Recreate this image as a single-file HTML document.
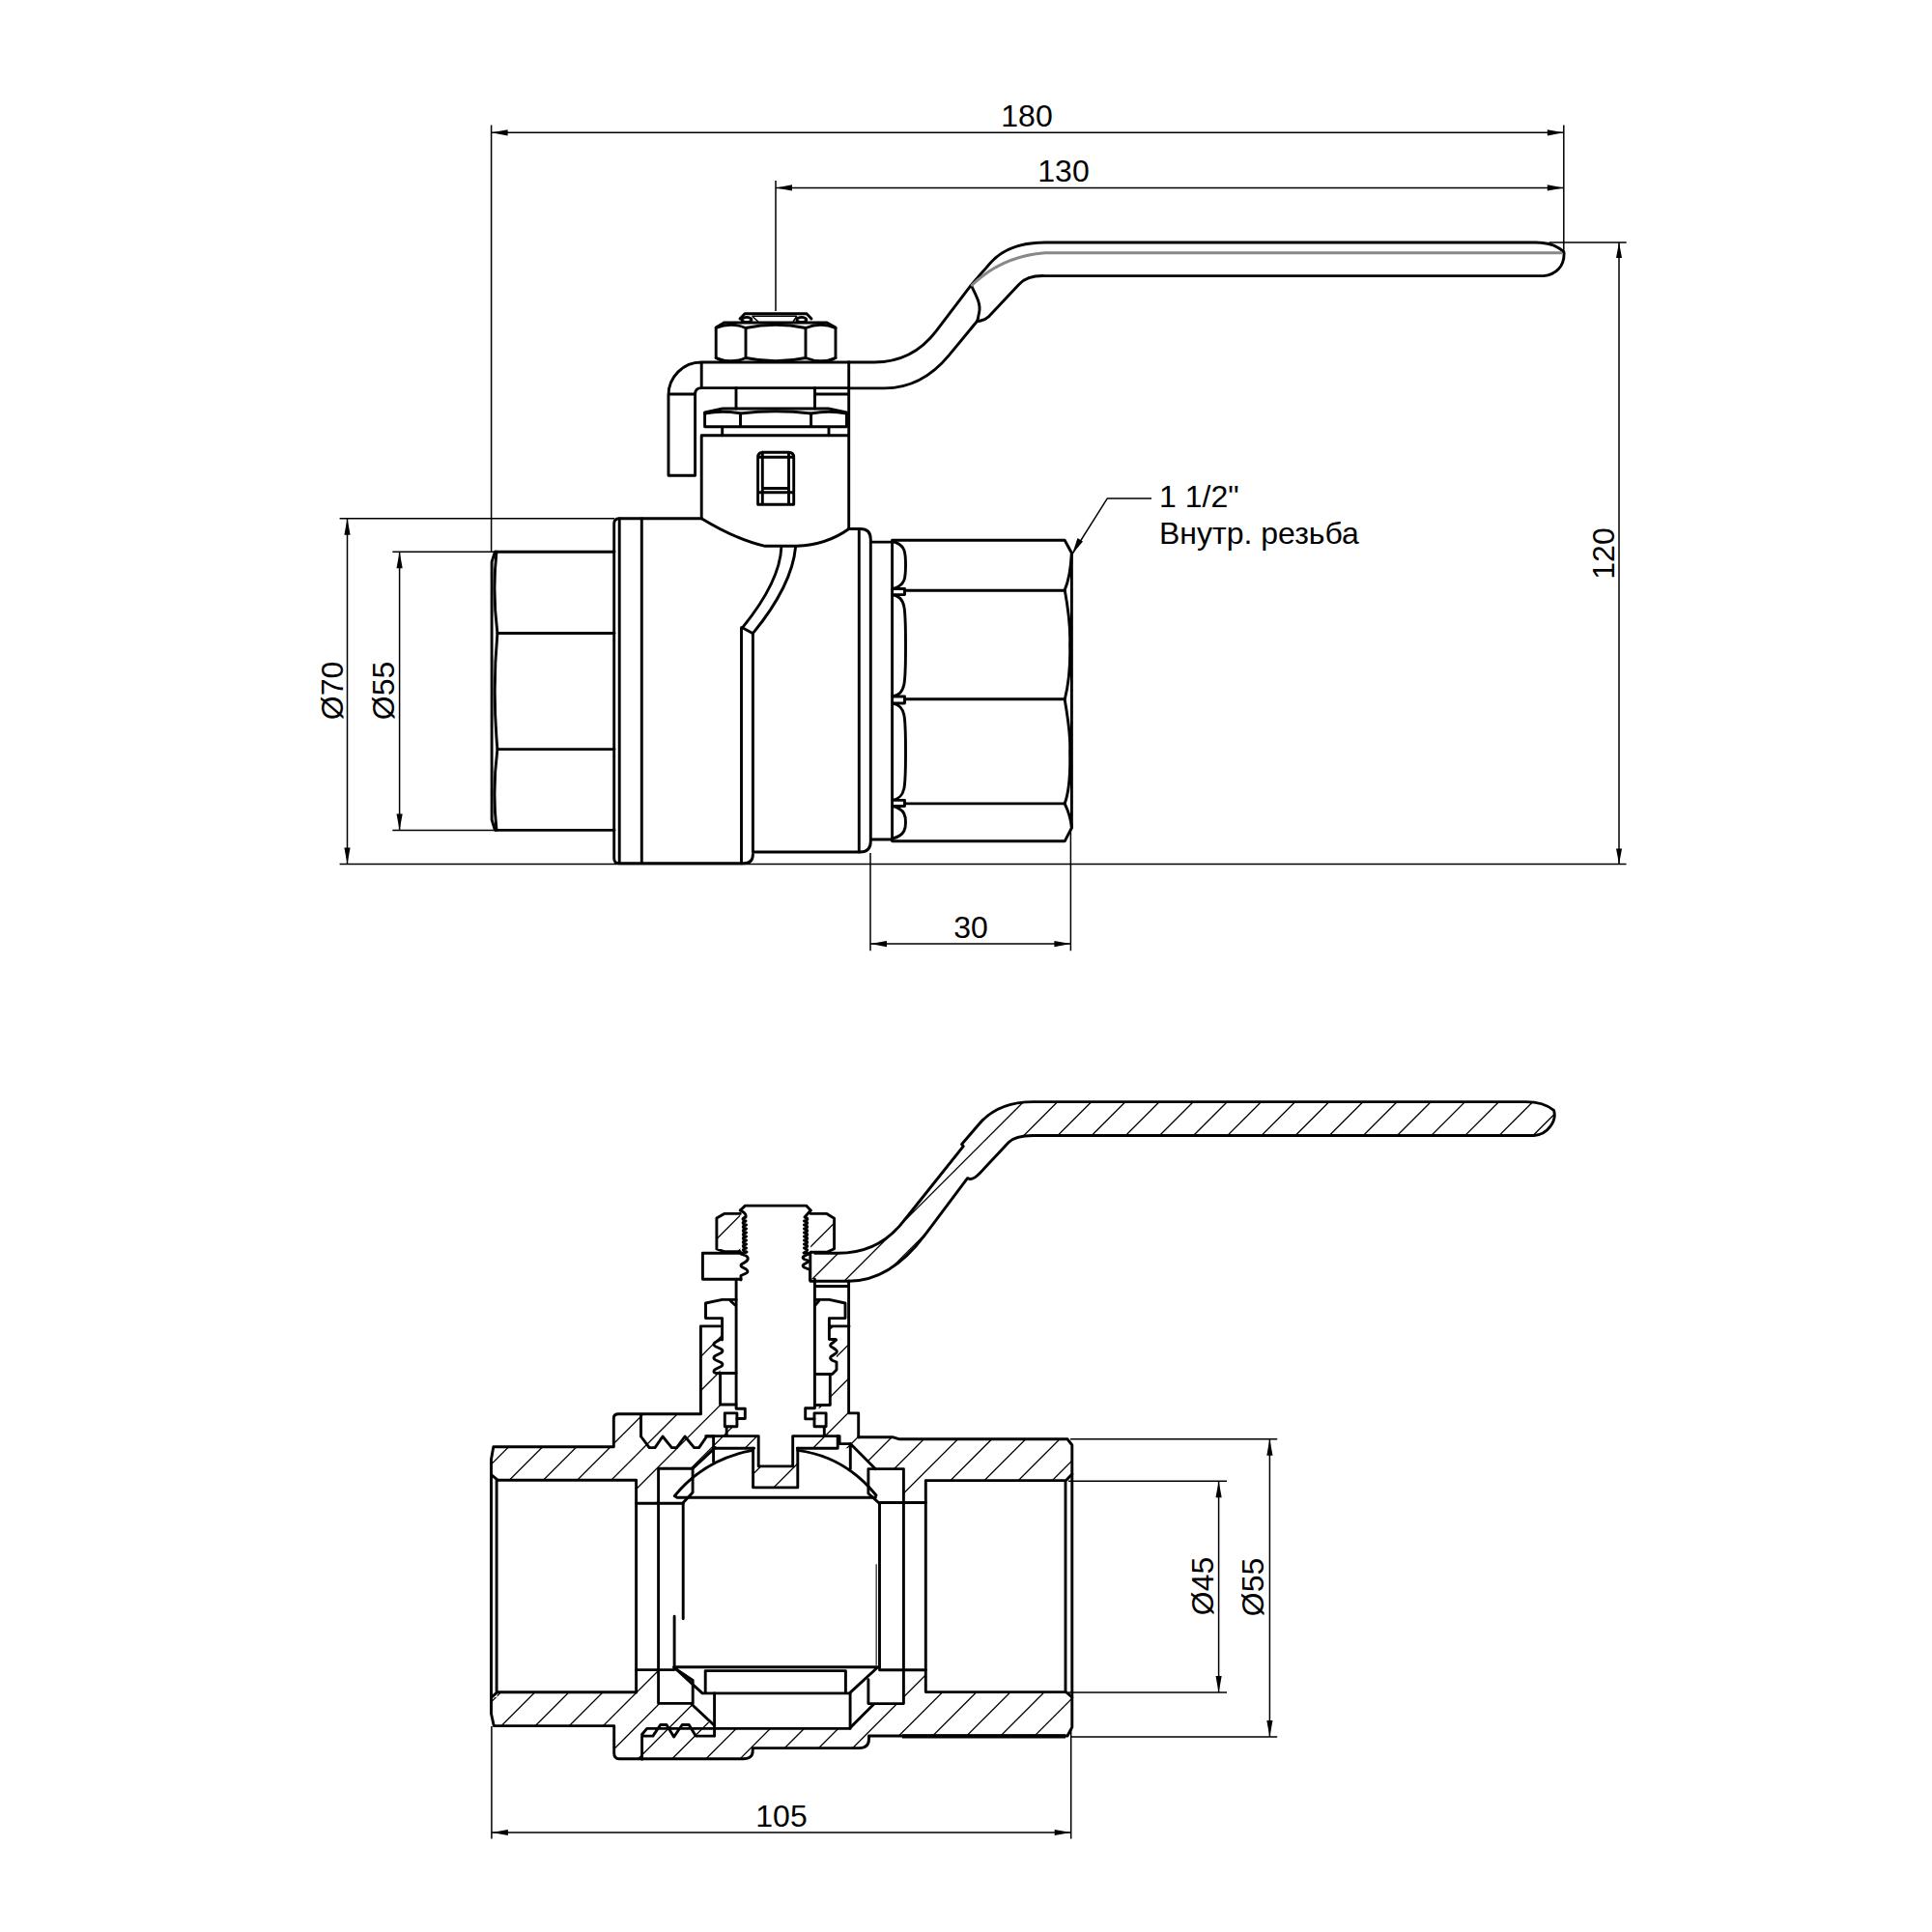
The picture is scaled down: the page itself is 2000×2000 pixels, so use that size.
<!DOCTYPE html>
<html><head><meta charset="utf-8">
<style>
html,body{margin:0;padding:0;background:#fff;}
svg{display:block;}
.o{fill:none;stroke:#000;stroke-width:2.9;stroke-linejoin:round;stroke-linecap:round;}
.d{fill:none;stroke:#000;stroke-width:1.5;}
.h{fill:none;stroke:#000;stroke-width:1.3;}
.a{fill:#000;stroke:none;}
text{font-family:"Liberation Sans",sans-serif;font-size:32px;fill:#000;}
</style></head><body>
<svg width="2000" height="2000" viewBox="0 0 2000 2000">
<rect width="2000" height="2000" fill="#fff"/>
<!-- ===== DIMENSIONS TOP ===== -->
<g id="dims">
<path class="d" d="M508.6 129.5V571 M1618.8 129.5V260 M508.6 137.3H1618.8 M803 187V322 M803 194.4H1618.8"/>
<polygon class="a" points="508.6,137.3 525.6,134.2 525.6,140.4"/>
<polygon class="a" points="1618.8,137.3 1601.8,134.2 1601.8,140.4"/>
<polygon class="a" points="803,194.4 820,191.3 820,197.5"/>
<polygon class="a" points="1618.8,194.4 1601.8,191.3 1601.8,197.5"/>
<text x="1063" y="131" text-anchor="middle">180</text>
<text x="1101" y="188" text-anchor="middle">130</text>
<path class="d" d="M1603.7 251H1683.7 M351.6 894.4H1683.5 M1676 251V894.4"/>
<polygon class="a" points="1676,251 1673,267 1679,267"/>
<polygon class="a" points="1676,894.4 1673,878.4 1679,878.4"/>
<text transform="translate(1670.7 573) rotate(-90)" text-anchor="middle">120</text>
<path class="d" d="M351.6 536.7H636 M359.5 536.7V894.4 M406.3 571.2H511 M406.3 859.4H511 M413.6 571.2V859.4"/>
<polygon class="a" points="359.5,536.7 356.4,553.7 362.6,553.7"/>
<polygon class="a" points="359.5,894.4 356.4,877.4 362.6,877.4"/>
<polygon class="a" points="413.6,571.2 410.5,588.2 416.7,588.2"/>
<polygon class="a" points="413.6,859.4 410.5,842.4 416.7,842.4"/>
<text transform="translate(354.6 715) rotate(-90)" text-anchor="middle">Ø70</text>
<text transform="translate(407.7 715) rotate(-90)" text-anchor="middle">Ø55</text>
<path class="d" d="M901 883V984.2 M1108.4 858V984.2 M901 977.1H1108.4"/>
<polygon class="a" points="901,977.1 918,974 918,980.2"/>
<polygon class="a" points="1108.4,977.1 1091.4,974 1091.4,980.2"/>
<text x="1005" y="971" text-anchor="middle">30</text>
<path class="d" d="M1110 573.5L1146.3 515.9H1192"/>
<polygon class="a" points="1110,573.5 1115.5,557 1121,560.5"/>
<text x="1200" y="525">1 1/2"</text>
<text x="1200" y="563">Внутр. резьба</text>
</g>
<!-- ===== DIMENSIONS BOTTOM ===== -->
<g id="dims2">
<path class="d" d="M1108 1489.8H1322.2 M1108 1798.1H1322.2 M1314.4 1489.8V1798.1 M1106 1533.2H1270 M1106 1751.9H1270 M1261.6 1533.2V1751.9"/>
<polygon class="a" points="1314.4,1489.8 1311.3,1506.8 1317.5,1506.8"/>
<polygon class="a" points="1314.4,1798.1 1311.3,1781.1 1317.5,1781.1"/>
<polygon class="a" points="1261.6,1533.2 1258.5,1550.2 1264.7,1550.2"/>
<polygon class="a" points="1261.6,1751.9 1258.5,1734.9 1264.7,1734.9"/>
<text transform="translate(1256 1642) rotate(-90)" text-anchor="middle">Ø45</text>
<text transform="translate(1308.2 1643) rotate(-90)" text-anchor="middle">Ø55</text>
<path class="d" d="M508.9 1787V1903.6 M1108.7 1790V1903.6 M508.9 1897H1108.7"/>
<polygon class="a" points="508.9,1897 525.9,1893.9 525.9,1900.1"/>
<polygon class="a" points="1108.7,1897 1091.7,1893.9 1091.7,1900.1"/>
<text x="809" y="1890.7" text-anchor="middle">105</text>
</g>
<g id="topview">
<!-- left hex -->
<path class="o" d="M512.4 571.3H636 M512.4 859.4H636 M514.9 655.5H636 M514.9 775.6H636 M512.4 571.3L509.1 581.6V848.6L512.4 859.4"/>
<path class="o" d="M514 571.3Q509.5 612 514.9 655.5Q509.5 715 514.9 775.6Q509.5 818 514 859.4"/>
<!-- left body flange -->
<path class="o" d="M726.2 536.7H641Q635.7 536.7 635.7 542V888.5Q635.7 893.8 641 893.8H770Q779.4 893.8 779.4 884.5"/>
<path class="o" d="M641.2 537V893.5 M664.3 537V893.5"/>
<!-- body arc & slot -->
<path class="o" d="M726.2 536.7Q762 558.5 792 565.3H824.6Q856 564 878.7 547.5"/>
<path class="o" d="M808.9 566Q807.5 602 768.5 649.8L779.4 655.7Q820 606 823.6 566"/>
<path class="o" d="M767.5 649.8V893.8 M779.4 655.7V882H889.5"/>
<!-- right flange -->
<path class="o" d="M878.7 547.5H890.5Q901.3 547.5 901.3 558.3V871Q901.3 882 890.5 882"/>
<path class="o" d="M889.3 547.5V882"/>
<!-- neck -->
<path class="o" d="M901.6 561.1H923.6 M901.6 869H923.6"/>
<!-- right hex -->
<path class="o" d="M923.6 559.3V870.5 M923.6 559.3H1102.2L1109.4 572.5V857L1102.2 870.8H923.6"/>
<path class="o" d="M936.5 611.2H1102.2 M936.5 723.7H1102.2 M936.5 831.9H1102.2"/>
<path class="o" d="M924 560.5C937.5 563.5 937.5 572.5 937.5 585.0C937.5 597.5 937.5 606.5 924 609.5H936.5V615.6H924C937.5 618.6 937.5 627.6 937.5 668.3C937.5 709.0 937.5 718.0 924 721.0H936.5V728H924C937.5 731.0 937.5 740.0 937.5 778.2C937.5 816.4 937.5 825.4 924 828.4H936.5V834.5H924C937.5 837.5 937.5 846.5 937.5 851.2C937.5 856.0 937.5 865.0 924 868.0"/>
<path class="o" d="M1109.4 572.2Q1108 598 1102.2 610.6Q1108.5 645 1107.6 667Q1108.5 700 1102.2 724.2Q1108.5 760 1107.6 778Q1108.5 815 1102.2 831.8Q1108.5 845 1109.4 857"/>
<!-- stem housing -->
<path class="o" d="M726.2 536.7V450.8H878.7 M878.7 375V547.5"/>
<!-- packing nut -->
<path class="o" d="M748 423H857.7L876.4 426.8V441.7H729.6V426.8Z M766.5 428V441.7 M839.6 428V441.7 M747.7 441.7V450.8 M858 441.7V450.8"/>
<path class="o" d="M729.6 428Q748 424.5 766.5 428Q803 423.5 839.6 428Q858 424.5 876.4 428"/>
<path class="o" d="M762 401.6V423 M843.5 401.6V423 M843.5 408H878"/>
<!-- handle plate + bent tab -->
<path class="o" d="M878.7 375H726.2A34 34 0 0 0 692 409V492.2H719.6V408Q719.6 401.6 726.2 401.6H878.7 M726.2 375V401.6 M692 408H719.6"/>
<!-- top nut -->
<path class="o" d="M749.6 334H856L865 339V370.5L856.5 374.5 M749.6 334L741.2 339V370.5L749.5 374.5 M772 339.5V370 M834 339.5V370"/>
<path class="o" d="M741.2 339.5Q757 333 772 339.5Q803 333 834 339.5Q850 333 865 339.5 M741.2 370.5Q757 377 772 370.5Q803 377 834 370.5Q850 377 865 370.5"/>
<path class="o" d="M766 330L771 324.8H835L840 330"/><path class="d" d="M778.5 327.2H824.9 M778.5 327.2L785 333 M824.9 327.2L821 333"/>
<ellipse class="o" cx="773" cy="331" rx="5" ry="2.6"/>
<ellipse class="o" cx="829.8" cy="331" rx="5" ry="2.6"/>
<!-- window -->
<path class="o" d="M784.6 522.3V473.5Q784.6 468.2 789.8 468.2H816.5Q821.7 468.2 821.7 473.5V522.3Z M789.3 468.2V522.3 M816.5 468.2V522.3 M784.6 473.2H821.7 M789.3 505.5H816.5 M784.6 509.8H821.7"/>
<!-- handle -->
<path class="o" d="M878.7 375H904.9Q944.6 375 969 342.9L1005.3 295.2L1025 272.5Q1043.6 251 1081.9 251H1589.8C1602 251 1613 255 1619 261C1620 276 1610 284.5 1598 285.6H1081.9Q1063.7 284.9 1055 294.2L1024 327.3Q1018 332.5 1011.5 332.5L982.5 367.7Q954.3 401.9 916 401.9H878.7"/>
<path class="o" d="M1005.3 295.2C1010 305 1016 315 1013.5 324Q1012.5 330 1011.5 332.5"/>
<path d="M1005.3 296Q1036.4 265.2 1081.9 261.7H1617" fill="none" stroke="#888" stroke-width="3"/>
</g>

<g id="section">
<defs>
<mask id="hm" maskUnits="userSpaceOnUse" x="0" y="0" width="2000" height="2000">
<rect width="2000" height="2000" fill="#000"/>
<!-- handle -->
<path fill="#fff" d="M838.8 1297.3H867.3Q908.7 1297.3 933.5 1266.3L995.6 1188.7L1014.3 1162.8Q1033.4 1140.6 1069.6 1140.6H1582C1595 1140.6 1605 1145 1608.7 1150C1610 1165 1600 1174 1587.7 1175.4H1069.6Q1051 1175.4 1044.2 1182.6L1014.3 1214.5L1000.8 1220.7L957.3 1278.7Q921.6 1326.3 878.7 1326.3H838.8Z"/>
<path fill="#fff" d="M741.9 1256.4H766.3V1295.7H741.9Z M839.2 1256.4H863.6V1295.7H839.2Z"/>
<!-- body outer -->
<path fill="#fff" d="M508.5 1510.8L510.8 1497.7H635.3V1463.8H725.4V1372.9H747.6V1454H762V1487H843.4V1454H858.4V1372.9H879V1463.5H888.9V1487.8H924.6L931.3 1490.5H1105L1109.8 1496V1788L1105 1797H899.5L889.4 1809.6H779.2L769 1821.2H640.4L635.7 1815V1786.6H511.3L508.5 1774Z"/>
<!-- holes -->
<path fill="#000" d="M514 1532.2H658.4V1751.7H514Z M500 1527H514.6V1757H500Z M958.3 1532.6H1120V1751.6H958.3Z M1102.5 1527H1120V1757H1102.5Z M658.4 1556H958.3V1726.4H658.4Z M681.6 1520.3H717V1763.4H681.6Z M899 1520.8H936V1763.4H899Z"/>
<path fill="#000" d="M717 1520.3L738.6 1499.2H779.6V1540H825.8V1499.2H884.9L906.4 1520.8V1556H717Z"/>
<path fill="#000" d="M682 1726.4H936V1763.4H904.2L879.3 1789.4H739.6L716.3 1764.5H682Z"/>
<path fill="#000" d="M762 1324.2H843.4V1486.6H820.7V1517.9H785.2V1486.6H762Z M745.6 1421.5H762V1454H745.6Z M843.5 1422.5H859.3V1454.5H843.5Z"/>
<path fill="#000" d="M730.5 1345H762V1421.5H745.5V1386.3H747.6V1364.6H730.5Z M845 1345H875V1364.6H858.4V1386H866V1422.5H845Z"/>
<path fill="#000" d="M750.3 1462.9H771.3V1476.8H750.3Z M833.7 1457.7H855.1V1476.8H833.7Z"/>
</mask>
</defs>
<path class="h" mask="url(#hm)" d="M-192.3 1830.0L507.7 1130.0M-157.1 1830.0L542.9 1130.0M-122.0 1830.0L578.0 1130.0M-86.8 1830.0L613.2 1130.0M-51.7 1830.0L648.3 1130.0M-16.5 1830.0L683.5 1130.0M18.6 1830.0L718.6 1130.0M53.8 1830.0L753.8 1130.0M88.9 1830.0L788.9 1130.0M124.1 1830.0L824.1 1130.0M159.2 1830.0L859.2 1130.0M194.4 1830.0L894.4 1130.0M229.5 1830.0L929.5 1130.0M264.7 1830.0L964.7 1130.0M299.8 1830.0L999.8 1130.0M335.0 1830.0L1035.0 1130.0M370.1 1830.0L1070.1 1130.0M405.3 1830.0L1105.3 1130.0M440.4 1830.0L1140.4 1130.0M475.6 1830.0L1175.6 1130.0M510.8 1830.0L1210.8 1130.0M545.9 1830.0L1245.9 1130.0M581.0 1830.0L1281.0 1130.0M616.2 1830.0L1316.2 1130.0M651.3 1830.0L1351.3 1130.0M686.5 1830.0L1386.5 1130.0M721.6 1830.0L1421.6 1130.0M756.8 1830.0L1456.8 1130.0M791.9 1830.0L1491.9 1130.0M827.1 1830.0L1527.1 1130.0M862.2 1830.0L1562.2 1130.0M897.4 1830.0L1597.4 1130.0M932.5 1830.0L1632.5 1130.0M967.7 1830.0L1667.7 1130.0M1002.8 1830.0L1702.8 1130.0M1038.0 1830.0L1738.0 1130.0M1073.1 1830.0L1773.1 1130.0M1108.3 1830.0L1808.3 1130.0M1143.4 1830.0L1843.4 1130.0M1178.6 1830.0L1878.6 1130.0M1213.8 1830.0L1913.8 1130.0M1248.9 1830.0L1948.9 1130.0M1284.0 1830.0L1984.0 1130.0M1319.2 1830.0L2019.2 1130.0M1354.3 1830.0L2054.3 1130.0M1389.5 1830.0L2089.5 1130.0M1424.6 1830.0L2124.6 1130.0M1459.8 1830.0L2159.8 1130.0M1494.9 1830.0L2194.9 1130.0M1530.1 1830.0L2230.1 1130.0M1565.2 1830.0L2265.2 1130.0M1600.4 1830.0L2300.4 1130.0"/>
<!-- handle outline -->
<path class="o" d="M843.5 1297.3H867.3Q908.7 1297.3 933.5 1266.3L995.6 1188.7L997.3 1186.6L995.6 1184.5L1014.3 1162.8Q1033.4 1140.6 1069.6 1140.6H1579.4C1594 1140.6 1602 1144 1608.5 1149.3C1612 1160 1602 1175 1588 1175.5H1069.6Q1051 1175.4 1044.2 1182.6L1014.3 1214.5Q1008 1221 1004 1220.5L1001.5 1219.7L1000.8 1220.7L957.3 1278.7Q921.6 1326.3 878.7 1326.3H838.8V1297.3"/>
<path class="d" d="M938 1262Q965 1228 995 1190"/>
<!-- stem top -->
<path class="o" d="M766.3 1253L771.4 1248.1H834.6L839.2 1253"/>
<!-- nuts -->
<path class="o" d="M766.3 1256.4H749.7L741.9 1261V1293L749.7 1295.7H766.3 M839.2 1256.4H855.9L863.6 1261.2V1292.7L855.9 1296.3H839.2"/>
<!-- stem threads -->
<path class="o" d="M766.3 1253Q773 1256 772 1260Q766 1262 772 1264Q766 1266 772.5 1268Q766 1270 772.5 1272Q766 1274 772.5 1276Q766 1278 772.5 1280Q766 1282 772.5 1284Q766 1286 772.5 1288Q766 1290 772.5 1292Q766 1294 773 1296L767 1298Q775.5 1300 774 1304Q773 1306 768 1308.5Q766 1310 768 1311.5L772.5 1314Q775.5 1316.5 772.5 1318L767 1320.5V1325"/>
<path class="o" d="M839.2 1253L833 1260Q839 1262 832.5 1264Q839 1266 832.5 1268Q839 1270 832.5 1272Q839 1274 832.5 1276Q839 1278 832.5 1280Q839 1282 832.5 1284Q839 1286 832.5 1288Q839 1290 832.5 1292Q839 1294 832 1297L838.5 1297.5L832 1300.5Q830 1302 832.5 1303.5L838 1305.5L832 1309Q830 1310.5 832.5 1312L838.5 1314.5V1325"/>
<!-- left plate -->
<path class="o" d="M767 1297.3H727.4V1324.2H767"/>
<!-- stem edges + right inner -->
<path class="o" d="M762.1 1324.2V1458.2H771.3V1468.5H762.9 M843.4 1324.2V1457.7H833.7V1468.9H843 M878.6 1326V1462.9H888.7V1488 M843.4 1331.5H878.6"/>
<!-- left gland follower -->
<path class="o" d="M762.1 1345.4H747.6L730.5 1349V1364.6H747.6V1387 M747.6 1385.5L740.5 1389.5Q737 1392 741 1394L746.5 1396.5Q749.5 1398.5 746.5 1400.5L740.5 1403.5Q737 1406 741 1408L746.5 1410.5Q749.5 1412.5 746.5 1414.5L740.5 1417.5Q737 1420 741 1421.5H762 M756.5 1347L761 1351"/>
<!-- left bonnet -->
<path class="o" d="M725.4 1463.8V1372.9H745.5"/>
<!-- left packing -->
<path class="o" d="M745.6 1421.5V1454H762"/>
<!-- right gland follower -->
<path class="o" d="M843.4 1345.4H858.4L875 1349V1364.6H858.4V1386.5 M859.5 1386.5H864.5Q867 1387 864 1388.5L860 1391.5Q858.5 1393.5 862 1395L865 1397Q868 1399.5 864.5 1401.5L860 1404.5Q858.5 1406.5 862 1408.5L866 1410V1418L861.5 1422.5H845 M847.5 1347L844 1351"/>
<path class="o" d="M859.4 1372.9H879"/>
<path class="o" d="M859.3 1422.5V1454.5H843.5"/>
<!-- seal squares -->
<path class="o" d="M750.3 1462.9H762.9V1476.8H750.3Z M752.2 1476.8V1486.6"/>
<path class="o" d="M843 1462.9H855.1V1476.8H843Z M853.3 1476.8V1486.6"/>
<!-- stem flange & tang -->
<path class="o" d="M730.7 1486.6H785.2V1517.9H820.7V1486.6H869.1V1494.6H880.3"/>
<path class="o" d="M738.6 1486.6V1513 M738.6 1499.2H780.6 M825.3 1499.2H867.2V1486.6"/>
<path class="o" d="M779.6 1499.2V1539.9H825.8V1499.2"/>
<!-- outer profile top left -->
<path class="o" d="M508.5 1526.6V1510.8L510.8 1497.7H635.3V1468Q635.3 1463.8 640.3 1463.8H725.4"/>
<path class="o" d="M514.6 1531.7L508.5 1526.6 M514.6 1532.2H658.6V1752 M514.1 1532.2V1751.7 M508.5 1526.6V1774L511.3 1786.6H635.7V1815Q635.7 1820.7 641 1820.7H769Q779.2 1820.7 779.2 1812.7V1809.6H889.4Q899.5 1809.6 899.5 1800V1797H1105L1109.8 1788V1496L1105.1 1489.8H931.3L924.6 1487.8H888.9 M508.5 1757.3L515 1751.7H658.6"/>
<!-- top threads -->
<path class="o" d="M663.5 1465.2V1487L672.2 1498.6H678L686 1487L695.4 1498.6H700.5L709 1487L718.6 1498.6H723.6L731.6 1487H738.8"/>
<path class="o" d="M740.3 1498.6L717.1 1520.3 M880.3 1494.6L906.4 1520.8 M880.3 1494.6V1520.6"/>
<!-- right pipe -->
<path class="o" d="M958.3 1751.6V1532.6H1103.6L1109.8 1526 M1103 1533V1751 M958.3 1751.6H1103.6L1109.8 1757"/>
<!-- full-bore lines -->
<path class="o" d="M658.4 1556.3H707 M910.5 1555.5H958.3 M658.4 1728.6H698 M910.5 1728.8H958.3"/>
<!-- seats -->
<path class="o" d="M681.6 1520.3H717.1V1545L707 1555.8 M681.6 1520.3V1763.4H717.2V1739.5L698.1 1726.8 M898.9 1520.6H935.4V1763.6H898.9V1738.7 M898.9 1520.6V1546L910.5 1556.3"/>
<!-- ball -->
<path class="o" d="M698.3 1548.6Q730 1510 779.4 1501.4 M825.8 1501.4Q875 1508 907 1548 M698.3 1548.6L701 1550.3H906.4 M707.2 1556.3V1675.7 M698.1 1673.2V1727 M910.5 1556.3V1727"/>
<path class="o" d="M697.6 1725.7H908.8L879.3 1752.9H727.1Z M730.2 1729.6H875.4V1752.9 M730.2 1729.6V1752.9"/>
<path class="o" d="M739.6 1752.9V1797.1 M880.1 1752.9V1789.4"/>
<!-- bottom threads -->
<path class="o" d="M664.6 1821.2V1797.1H675.9L683.7 1785.5H690L697.6 1798L706.2 1785.5H713.2L720.2 1797.1H739.6 M664.6 1795.5L669.7 1789.4H879.3L904.2 1764.5 M716.3 1764.5L739.6 1786.3"/>
<path d="M907.2 1619.3V1723.8" fill="none" stroke="#555" stroke-width="1.6"/>
<path d="M934 1797.3H1103" fill="none" stroke="#000" stroke-width="4.2"/>
</g>

</svg>
</body></html>
